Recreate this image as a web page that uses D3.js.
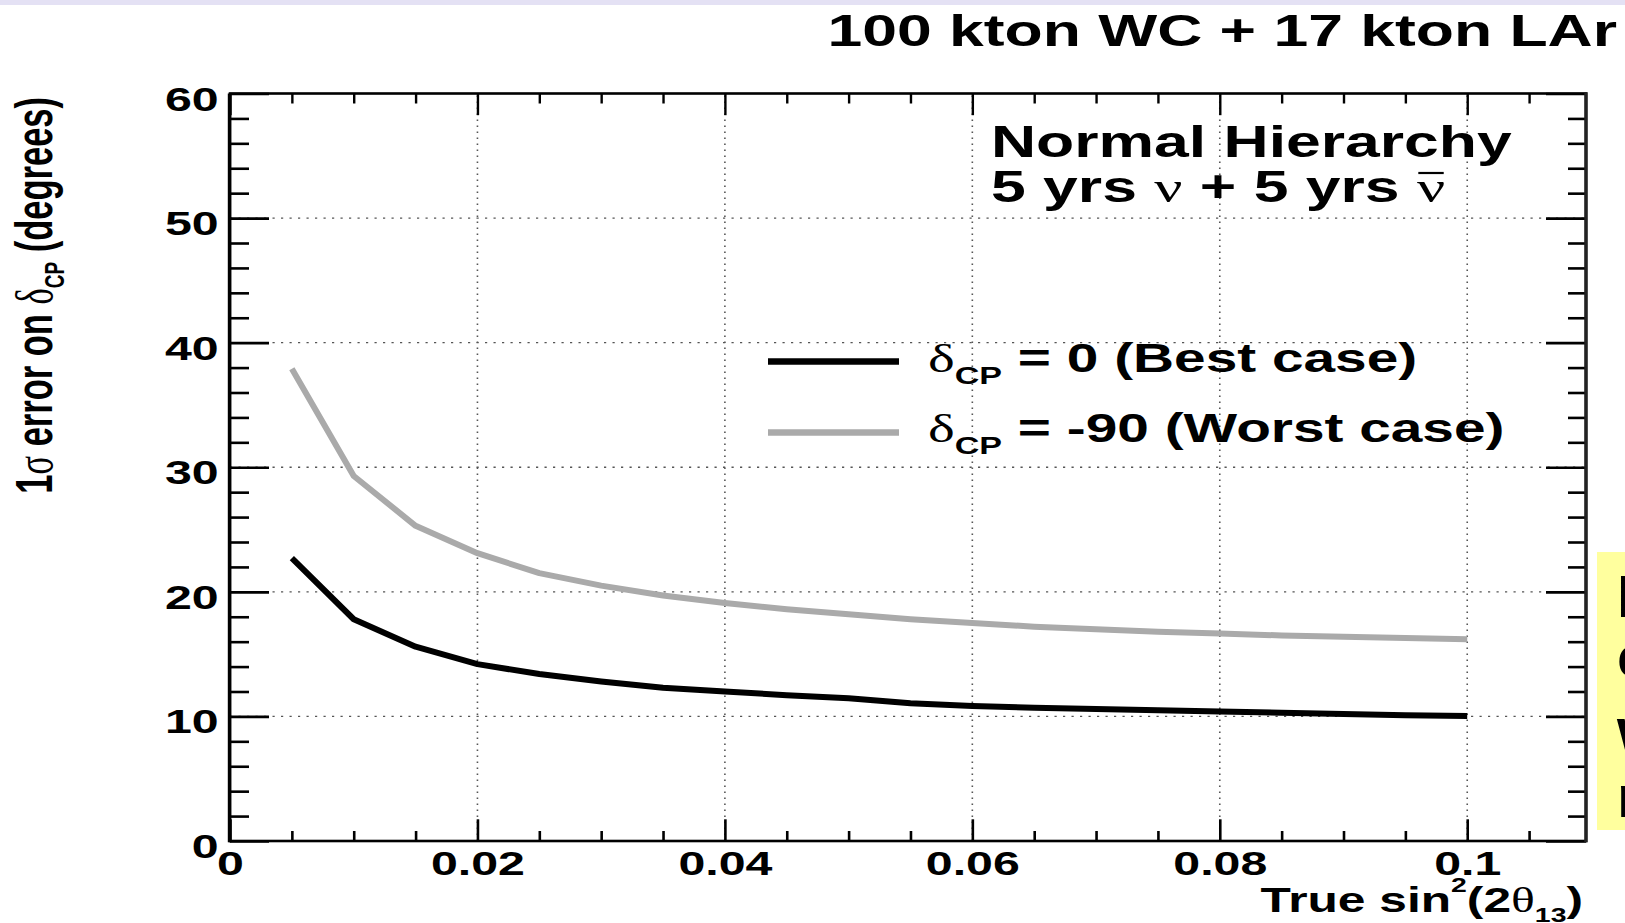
<!DOCTYPE html>
<html><head><meta charset="utf-8">
<script src="https://cdn.jsdelivr.net/npm/d3@7"></script>
<style>html,body{margin:0;padding:0;background:#fff;overflow:hidden}</style>
</head><body>
<svg id="c" width="1625" height="923"></svg>
<script>
// ---- data ----
const xValues   = [0.005,0.01,0.015,0.02,0.025,0.03,0.035,0.04,0.045,0.05,0.055,0.06,0.065,0.07,0.075,0.08,0.085,0.09,0.095,0.1];
const bestCase  = [22.7,17.8,15.6,14.2,13.4,12.8,12.3,12.0,11.7,11.45,11.05,10.83,10.7,10.6,10.5,10.4,10.3,10.2,10.1,10.03];
const worstCase = [37.9,29.3,25.3,23.1,21.5,20.5,19.7,19.1,18.6,18.2,17.8,17.5,17.2,17.0,16.8,16.65,16.5,16.4,16.3,16.2];
const xMajorTicks = [0,0.02,0.04,0.06,0.08,0.1];
const xTickLabels = ["0","0.02","0.04","0.06","0.08","0.1"];
const xMinorTicks = [0.005,0.01,0.015,0.025,0.03,0.035,0.045,0.05,0.055,0.065,0.07,0.075,0.085,0.09,0.095,0.105];
const yMajorTicks = [0,10,20,30,40,50,60];
const yTickLabels = ["0","10","20","30","40","50","60"];
const yMinorTicks = [2,4,6,8,12,14,16,18,22,24,26,28,32,34,36,38,42,44,46,48,52,54,56,58];
const legendLabels = [" = 0 (Best case)"," = -90 (Worst case)"];

const sans = "'Liberation Sans', Arial, Helvetica, sans-serif";
const serif = "'Liberation Serif', 'DejaVu Serif', serif";
const SX = 1.42;

const svg = d3.select("#c");
svg.append("rect").attr("x",0).attr("y",0).attr("width",1625).attr("height",923).attr("fill","#fff");
svg.append("rect").attr("x",0).attr("y",0).attr("width",1625).attr("height",5).attr("fill","#e4e1f4");

const xMax = 0.1096;
const x = d3.scaleLinear().domain([0, xMax]).range([230, 1586]);
const y = d3.scaleLinear().domain([0, 60]).range([841, 93.5]);

// grid
svg.append("g").selectAll("line").data(xMajorTicks.filter(d=>d>0)).join("line")
  .attr("x1",d=>x(d)).attr("x2",d=>x(d)).attr("y1",y(0)).attr("y2",y(60))
  .attr("stroke","#555").attr("stroke-width",1.6).attr("stroke-dasharray","1.6,4.4");
svg.append("g").selectAll("line").data(yMajorTicks.filter(d=>d>0&&d<60)).join("line")
  .attr("x1",x(0)).attr("x2",x(xMax)).attr("y1",d=>y(d)).attr("y2",d=>y(d))
  .attr("stroke","#555").attr("stroke-width",1.4).attr("stroke-dasharray","2.2,6.3");

function styleAxis(g, w){
  g.select(".domain").remove();
  g.selectAll("line").attr("stroke","#000").attr("stroke-width",w);
}
// bottom
const gB = svg.append("g").attr("transform",`translate(0,${y(0)})`)
  .call(d3.axisBottom(x).tickValues(xMajorTicks).tickSize(-21.7).tickFormat((d,i)=>xTickLabels[i]));
styleAxis(gB,2.6);
gB.selectAll("text").attr("y",34).attr("dy",null).attr("font-size",34).attr("font-family",sans)
  .attr("font-weight","bold").attr("fill","#000").attr("transform",`scale(${SX},1)`);
const gBm = svg.append("g").attr("transform",`translate(0,${y(0)})`)
  .call(d3.axisBottom(x).tickValues(xMinorTicks).tickSize(-10).tickFormat(""));
styleAxis(gBm,2.6);
// top
const gT = svg.append("g").attr("transform",`translate(0,${y(60)})`)
  .call(d3.axisTop(x).tickValues(xMajorTicks).tickSize(-21.7).tickFormat(""));
styleAxis(gT,2.4);
const gTm = svg.append("g").attr("transform",`translate(0,${y(60)})`)
  .call(d3.axisTop(x).tickValues(xMinorTicks).tickSize(-10).tickFormat(""));
styleAxis(gTm,2.4);
// left
const gL = svg.append("g").attr("transform",`translate(${x(0)},0)`)
  .call(d3.axisLeft(y).tickValues(yMajorTicks).tickSize(-39).tickFormat((d,i)=>yTickLabels[i]));
styleAxis(gL,2.6);
gL.selectAll("text").attr("x",-8).attr("y",16.5).attr("dy",null).attr("font-size",34).attr("font-family",sans)
  .attr("font-weight","bold").attr("fill","#000").attr("transform",`scale(${SX},1)`);
const gLm = svg.append("g").attr("transform",`translate(${x(0)},0)`)
  .call(d3.axisLeft(y).tickValues(yMinorTicks).tickSize(-19).tickFormat(""));
styleAxis(gLm,2.6);
// right
const gR = svg.append("g").attr("transform",`translate(${x(xMax)},0)`)
  .call(d3.axisRight(y).tickValues(yMajorTicks).tickSize(-40).tickFormat(""));
styleAxis(gR,2.6);
const gRm = svg.append("g").attr("transform",`translate(${x(xMax)},0)`)
  .call(d3.axisRight(y).tickValues(yMinorTicks).tickSize(-18).tickFormat(""));
styleAxis(gRm,2.6);

// frame
svg.append("rect").attr("x",x(0)).attr("y",y(60)).attr("width",x(xMax)-x(0)).attr("height",y(0)-y(60))
  .attr("fill","none").attr("stroke","#000").attr("stroke-width",2.6);
svg.append("line").attr("x1",x(0)-0.5).attr("x2",x(0)-0.5).attr("y1",y(60)).attr("y2",y(0)+1.3).attr("stroke","#000").attr("stroke-width",3.4);
svg.append("line").attr("x1",x(xMax)).attr("x2",x(xMax)).attr("y1",y(60)-1.3).attr("y2",y(0)+1.3).attr("stroke","#222").attr("stroke-width",3.4);

// curves
const line = d3.line().x(d=>x(d[0])).y(d=>y(d[1]));
const series = [
  {vals: worstCase, color:"#aaaaaa"},
  {vals: bestCase, color:"#000000"}
];
series.forEach(s=>{
  svg.append("path").datum(xValues.map((v,i)=>[v,s.vals[i]]))
    .attr("d",line).attr("fill","none").attr("stroke",s.color).attr("stroke-width",6)
    .attr("stroke-linejoin","round");
});

// rich text helper
function rich(transform, size, anchor, parts){
  const g = svg.append("g").attr("transform", transform);
  const t = g.append("text").attr("font-family",sans).attr("font-weight","bold")
    .attr("font-size",size).attr("text-anchor",anchor).attr("fill","#000");
  let cur = 0;
  parts.forEach(p=>{
    const off = p.off||0;
    const ts = t.append("tspan").text(p.t).attr("dy", off-cur);
    cur = off;
    if (p.size) ts.attr("font-size", p.size);
    if (p.serif) ts.attr("font-family", serif).attr("font-weight","normal");
  });
  return {g, t};
}

// title
rich(`translate(1617,46) scale(${SX},1)`, 44, "end", [{t:"100 kton WC + 17 kton LAr"}]);
// annotation
rich(`translate(991,157) scale(${SX},1)`, 44, "start", [{t:"Normal Hierarchy"}]);
const l2 = rich(`translate(991,202) scale(${SX},1)`, 44, "start",
  [{t:"5 yrs "},{t:"\u03BD",serif:true},{t:" + 5 yrs "},{t:"\u03BD",serif:true}]);
{
  const node = l2.t.node();
  const n = node.getNumberOfChars()-1;
  const s = node.getStartPositionOfChar(n), e = node.getEndPositionOfChar(n);
  l2.g.append("line").attr("x1",s.x+1).attr("x2",e.x-1).attr("y1",-29).attr("y2",-29)
    .attr("stroke","#000").attr("stroke-width",2.2);
}

// legend
const legendRows = [
  {color:"#000", ly:361.5, ty:372},
  {color:"#aaaaaa", ly:432.5, ty:442}
];
legendRows.forEach((r,i)=>{
  svg.append("line").attr("x1",768).attr("x2",899).attr("y1",r.ly).attr("y2",r.ly)
    .attr("stroke",r.color).attr("stroke-width",6.5);
  rich(`translate(928,${r.ty}) scale(${SX},1)`, 40, "start",
    [{t:"\u03B4",serif:true},{t:"CP",size:24,off:12},{t:legendLabels[i]}]);
});

// axis titles
rich(`translate(1583,912) scale(${SX},1)`, 35, "end",
  [{t:"True sin"},{t:"2",size:20,off:-20},{t:"(2"},{t:"\u03B8",serif:true},{t:"13",size:20,off:10},{t:")"}]);
rich(`translate(52,97) scale(1.5,1) rotate(-90)`, 34.5, "end",
  [{t:"1"},{t:"\u03C3",serif:true},{t:" error on "},{t:"\u03B4",serif:true},{t:"CP",size:19,off:8},{t:" (degrees)"}]);

// clipped slide box at right edge
svg.append("rect").attr("x",1597).attr("y",552).attr("width",40).attr("height",278).attr("fill","#ffff9e");
const boxLines = [["Best",617],["could",677],["work",750],["now",817]];
boxLines.forEach(b=>{
  svg.append("text").attr("x",1617).attr("y",b[1]).attr("font-family",sans).attr("font-weight","bold")
    .attr("font-size",60).attr("fill","#000").text(b[0]);
});
</script>
</body></html>
